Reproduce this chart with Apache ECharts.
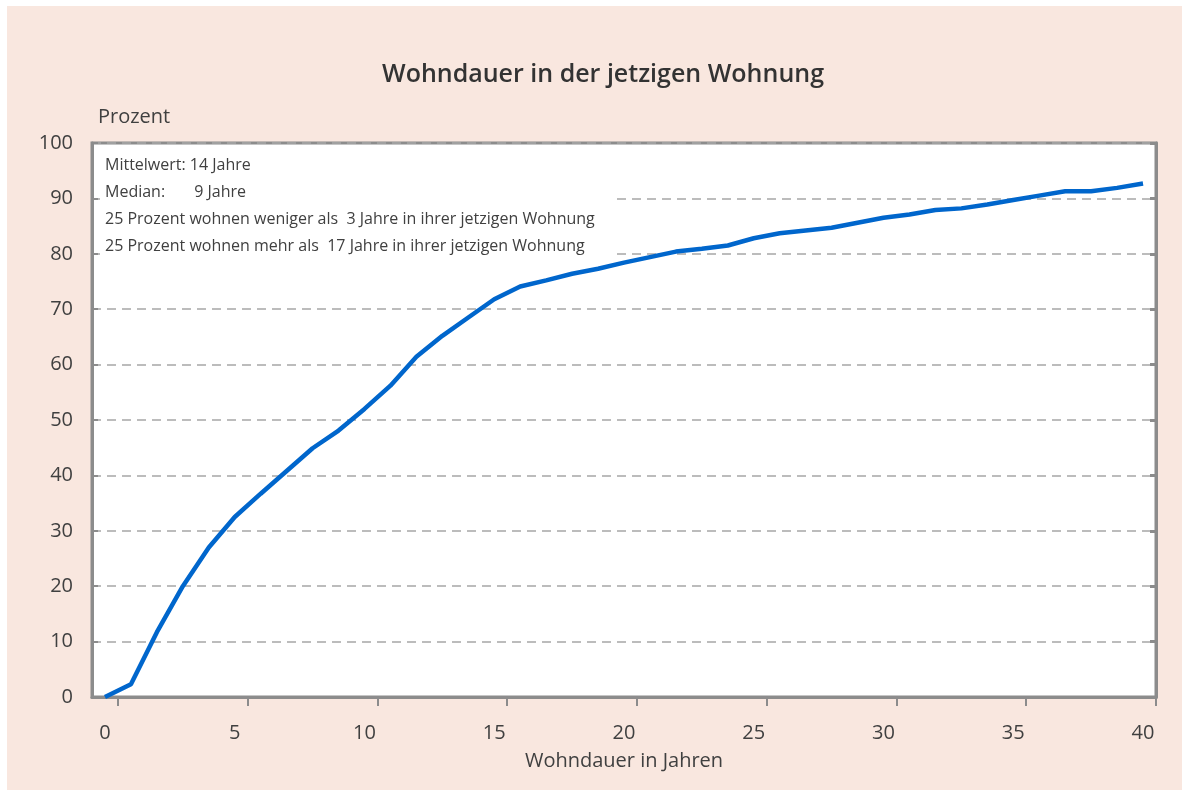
<!DOCTYPE html>
<html>
<head>
<meta charset="utf-8">
<title>Wohndauer in der jetzigen Wohnung</title>
<script src="https://cdn.jsdelivr.net/npm/echarts@6/dist/echarts.min.js"></script>
<style>
  html, body { margin: 0; padding: 0; background: #fff; }
  #wrap { position: relative; width: 1188px; height: 790px; overflow: hidden; }
  #panel { position: absolute; left: 7px; top: 6px; width: 1175px; height: 784px; background: #f9e7df; }
  #chart { position: absolute; left: 0; top: 0; width: 1188px; height: 790px; }
</style>
</head>
<body>
<div id="wrap">
  <div id="panel"></div>
  <div id="chart"></div>
</div>
<script>
// Wohndauer in Jahren (0..40)
const years = []
for (let i = 0; i <= 40; i++) years.push(String(i))

// kumulierter Anteil in Prozent
const shareValues = [
  0, 2.3, 11.7, 20.0, 27.0, 32.5, 36.7, 40.8, 44.9, 48.1,
  52.0, 56.2, 61.4, 65.2, 68.5, 71.8, 74.1, 75.2, 76.4, 77.3,
  78.4, 79.4, 80.4, 80.9, 81.5, 82.8, 83.7, 84.2, 84.7, 85.6,
  86.5, 87.1, 87.9, 88.2, 88.9, 89.7, 90.5, 91.3, 91.3, 91.9,
  92.7
]

const infoLines = [
  'Mittelwert: 14 Jahre',
  'Median:       9 Jahre',
  '25 Prozent wohnen weniger als  3 Jahre in ihrer jetzigen Wohnung',
  '25 Prozent wohnen mehr als  17 Jahre in ihrer jetzigen Wohnung'
]

const FONT = "'Liberation Sans Narrow', 'Open Sans', sans-serif"
const TXT = '#404040'
const AXIS = '#8c8c8c'

const chart = echarts.init(document.getElementById('chart'))

const graphics = [
  {
    type: 'text', x: 603, y: 75, z: 10,
    style: { text: 'Wohndauer in der jetzigen Wohnung', font: "600 25px " + FONT, fill: '#333', textAlign: 'center', textVerticalAlign: 'middle' }
  },
  {
    type: 'text', x: 98, y: 117, z: 10,
    style: { text: 'Prozent', font: "20px " + FONT, fill: TXT, textAlign: 'left', textVerticalAlign: 'middle' }
  },
  // weisser Kasten hinter der Info
  {
    type: 'rect', z: 1,
    shape: { x: 100, y: 146, width: 514, height: 116 },
    style: { fill: '#fff' }
  }
]
infoLines.forEach((t, i) => {
  graphics.push({
    type: 'text', x: 105, y: 165 + i * 27, z: 10,
    style: { text: t, font: "16px " + FONT, fill: TXT, textAlign: 'left', textVerticalAlign: 'middle' }
  })
})

const option = {
  animation: false,
  backgroundColor: 'transparent',
  textStyle: { fontFamily: FONT },
  grid: {
    left: 92, right: 32, top: 143, bottom: 93,
    show: true, backgroundColor: '#fff', borderColor: AXIS, borderWidth: 3
  },
  xAxis: {
    type: 'category',
    data: years,
    boundaryGap: true,
    name: 'Wohndauer in Jahren',
    nameLocation: 'middle',
    nameGap: 54,
    nameTextStyle: { fontSize: 20, color: TXT, fontFamily: FONT },
    axisLine: { lineStyle: { color: AXIS, width: 3 } },
    axisTick: {
      show: true, length: 9, inside: false,
      interval: (i) => i % 5 === 1,
      lineStyle: { color: AXIS, width: 2 }
    },
    axisLabel: {
      interval: 4, margin: 26,
      fontSize: 20, color: TXT, fontFamily: FONT
    },
    splitLine: { show: false }
  },
  yAxis: [
    {
      type: 'value', min: 0, max: 100, interval: 10,
      axisLine: { show: true, lineStyle: { color: AXIS, width: 3 } },
      axisTick: { show: true, inside: true, length: 6, lineStyle: { color: AXIS, width: 2 } },
      axisLabel: { margin: 19, fontSize: 20, color: TXT, fontFamily: FONT },
      splitLine: { show: true, lineStyle: { color: '#a6a6a6', width: 1.5, type: [9, 6] } }
    },
    {
      type: 'value', min: 0, max: 100, interval: 10, position: 'right',
      axisLine: { show: true, lineStyle: { color: AXIS, width: 3 } },
      axisTick: { show: true, inside: true, length: 6, lineStyle: { color: AXIS, width: 3 } },
      axisLabel: { show: false },
      splitLine: { show: false }
    }
  ],
  series: [
    {
      type: 'line',
      data: shareValues,
      yAxisIndex: 0,
      z: 5,
      symbol: 'none',
      lineStyle: { color: '#0066cc', width: 4.5 }
    }
  ],
  graphic: graphics
}

chart.setOption(option)
</script>
</body>
</html>
